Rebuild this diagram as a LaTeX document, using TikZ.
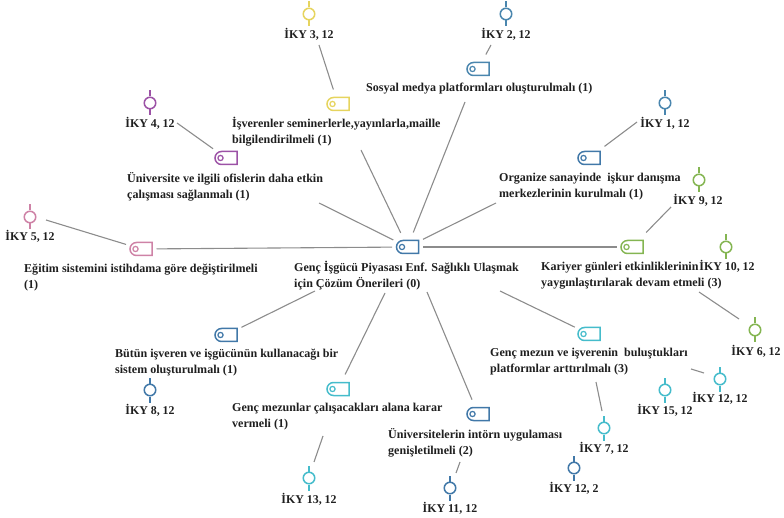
\documentclass[tikz,border=0pt]{standalone}
\usepackage{fontspec}
\setmainfont{Liberation Serif}
\usetikzlibrary{shapes.misc}
\definecolor{cblue}{HTML}{4A86AE}
\definecolor{dblue}{HTML}{4178A8}
\definecolor{cyellow}{HTML}{E6D45E}
\definecolor{cpurple}{HTML}{9C52A6}
\definecolor{cpink}{HTML}{CE82A6}
\definecolor{cgreen}{HTML}{84B552}
\definecolor{ccyan}{HTML}{45BCCB}
\definecolor{cline}{HTML}{8C8C8C}
\tikzset{
  tagicon/.style={rounded rectangle, rounded rectangle right arc=none,
    draw=#1, line width=1.5pt, minimum width=22pt, minimum height=13pt, inner sep=0pt, outer xsep=4.5pt, outer ysep=8pt,
    path picture={\draw[#1,line width=1.2pt] ([xshift=-5.5pt]path picture bounding box.center) circle (2.6pt);}},
  pinmark/.style={circle, draw=#1, line width=1.5pt, minimum size=11.5pt, inner sep=0pt,
    append after command={(\tikzlastnode.north) edge[#1,line width=1.5pt] ++(0,-6) (\tikzlastnode.south) edge[#1,line width=1.5pt] ++(0,6)}},
  lbl/.style={font=\fontsize{11.9}{16}\selectfont\bfseries, inner sep=0pt, text=black!88},
  txt/.style={font=\fontsize{12.05}{16}\selectfont\bfseries, inner sep=0pt, text=black!88, anchor=west, align=left},
  conn/.style={draw=cline, line width=1.1pt}
}
\begin{document}
\begin{tikzpicture}[x=1pt,y=-1pt]
\useasboundingbox (0,0) rectangle (784,518);
% centre
\node[tagicon=dblue] (root) at (407.5,247) {};
\node[txt] (rootT) at (294,275.5) {Genç İşgücü Piyasası Enf. Sağlıklı Ulaşmak\\için Çözüm Önerileri (0)};
% first-level icons and texts
\node[tagicon=cblue] (a2) at (478,69) {};
\node[txt] (a2T) at (366,89) {Sosyal medya platformları oluşturulmalı (1)};
\node[tagicon=cyellow] (a3) at (338,104) {};
\node[txt] (a3T) at (232,132) {İşverenler seminerlerle,yayınlarla,maille\\bilgilendirilmeli (1)};
\node[tagicon=cpurple] (a4) at (226,158) {};
\node[txt] (a4T) at (127,187) {Üniversite ve ilgili ofislerin daha etkin\\çalışması sağlanmalı (1)};
\node[tagicon=cpink] (a5) at (141,249) {};
\node[txt] (a5T) at (24,277.5) {Eğitim sistemini istihdama göre değiştirilmeli\\(1)};
\node[tagicon=dblue] (a1) at (589,158) {};
\node[txt] (a1T) at (499,187) {Organize sanayinde\ \ işkur danışma\\merkezlerinin kurulmalı (1)};
\node[tagicon=cgreen] (a9) at (632,247) {};
\node[txt] (a9T) at (541,275.5) {Kariyer günleri etkinliklerinin\\yaygınlaştırılarak devam etmeli (3)};
\node[tagicon=ccyan] (a7) at (589,334) {};
\node[txt] (a7T) at (490,362) {Genç mezun ve işverenin\ \ buluştukları\\platformlar arttırılmalı (3)};
\node[tagicon=dblue] (a11) at (478,414) {};
\node[txt] (a11T) at (388,443) {Üniversitelerin intörn uygulaması\\genişletilmeli (2)};
\node[tagicon=dblue] (a8) at (226,335) {};
\node[txt] (a8T) at (115,363) {Bütün işveren ve işgücünün kullanacağı bir\\sistem oluşturulmalı (1)};
\node[tagicon=ccyan] (a13) at (338,389) {};
\node[txt] (a13T) at (232,417) {Genç mezunlar çalışacakları alana karar\\vermeli (1)};
% pins and their labels
\node[pinmark=cblue] (p2) at (506,14) {};     \node[lbl] (p2T) at (506,34) {İKY 2, 12};
\node[pinmark=cyellow] (p3) at (309,14) {};   \node[lbl] (p3T) at (309,34) {İKY 3, 12};
\node[pinmark=cpurple] (p4) at (150,103) {};  \node[lbl] (p4T) at (150,123) {İKY 4, 12};
\node[pinmark=cpink] (p5) at (30,217) {};     \node[lbl] (p5T) at (30,236) {İKY 5, 12};
\node[pinmark=cblue] (p1) at (665,103) {};    \node[lbl] (p1T) at (665,123) {İKY 1, 12};
\node[pinmark=cgreen] (p9) at (699,180) {};   \node[lbl] (p9T) at (698,200) {İKY 9, 12};
\node[pinmark=cgreen] (p10) at (726,247) {};  \node[lbl] (p10T) at (727,266) {İKY 10, 12};
\node[pinmark=cgreen] (p6) at (755,330) {};   \node[lbl] (p6T) at (756,351) {İKY 6, 12};
\node[pinmark=ccyan] (p12) at (720,379) {};   \node[lbl] (p12T) at (720,398) {İKY 12, 12};
\node[pinmark=ccyan] (p15) at (665,390) {};   \node[lbl] (p15T) at (665,410) {İKY 15, 12};
\node[pinmark=ccyan] (p7) at (604,428) {};    \node[lbl] (p7T) at (604,448) {İKY 7, 12};
\node[pinmark=dblue] (p122) at (574,468) {};  \node[lbl] (p122T) at (574,488) {İKY 12, 2};
\node[pinmark=dblue] (p11) at (450,488) {};   \node[lbl] (p11T) at (450,508) {İKY 11, 12};
\node[pinmark=dblue] (p8) at (150,390) {};    \node[lbl] (p8T) at (150,410) {İKY 8, 12};
\node[pinmark=ccyan] (p13) at (309,478) {};   \node[lbl] (p13T) at (309,499) {İKY 13, 12};
% free ends of the connectors
\coordinate (r2) at (465,102);
\coordinate (r3) at (361,150);
\coordinate (r4) at (319,203);
\coordinate (r1) at (496,203);
\coordinate (r7) at (500,291);
\coordinate (r11) at (427,292);
\coordinate (r13) at (385,293);
\coordinate (r8) at (315,291);
\coordinate (e2) at (491,45);
\coordinate (e3) at (319,45);
\coordinate (e4) at (177,123);
\coordinate (e5) at (46,220);
\coordinate (e1) at (637,122);
\coordinate (e9) at (671,207);
\coordinate (f9) at (699,292);
\coordinate (g9) at (739,319);
\coordinate (f7a) at (691,369);
\coordinate (g7a) at (704,373);
\coordinate (f7) at (596,382);
\coordinate (g7) at (602,411);
\coordinate (f11) at (460,462);
\coordinate (g11) at (456,473);
\coordinate (f13) at (323,436);
\coordinate (g13) at (314,462);
% connectors
\draw[conn] (root) -- (r2);
\draw[conn] (root) -- (r3);
\draw[conn] (root) -- (r4);
\draw[conn] (root) -- (a5);
\draw[conn] (root) -- (r1);
\draw[conn] (root) -- (a9);
\draw[conn] (a7) -- (r7);
\draw[conn] (a11) -- (r11);
\draw[conn] (a13) -- (r13);
\draw[conn] (a8) -- (r8);
\draw[conn] (a2) -- (e2);
\draw[conn] (a3) -- (e3);
\draw[conn] (a4) -- (e4);
\draw[conn] (a5) -- (e5);
\draw[conn] (a1) -- (e1);
\draw[conn] (a9) -- (e9);
\draw[conn] (f9) -- (g9);
\draw[conn] (f7a) -- (g7a);
\draw[conn] (f7) -- (g7);
\draw[conn] (f11) -- (g11);
\draw[conn] (f13) -- (g13);
\end{tikzpicture}
\end{document}
